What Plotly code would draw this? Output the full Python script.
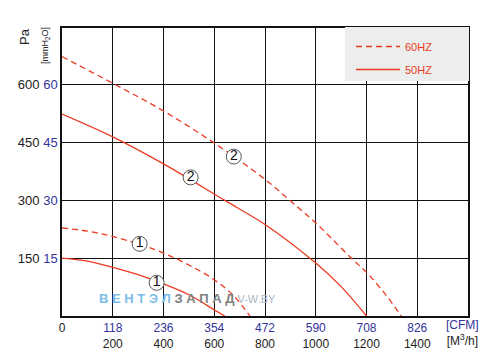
import plotly.graph_objects as go

# ---- data (flow in m3/h, pressure in mmH2O) ----
flow_60_2 = [0, 208, 400, 600, 800, 897, 1000, 1140, 1200, 1270, 1337]
pres_60_2 = [67.2, 60.0, 53.1, 44.8, 35.4, 30.0, 24.1, 15.0, 11.3, 6.0, 0.0]
flow_50_2 = [0, 200, 400, 640, 800, 1000, 1100, 1200]
pres_50_2 = [52.3, 46.4, 39.4, 30.0, 23.7, 13.7, 7.6, 0.0]
flow_60_1 = [0, 100, 200, 300, 400, 500, 600, 680, 740]
pres_60_1 = [22.8, 22.0, 20.6, 18.7, 16.3, 13.2, 9.4, 5.0, 0.0]
flow_50_1 = [0, 100, 200, 300, 400, 500, 600, 641]
pres_50_1 = [15.0, 14.2, 12.6, 10.7, 8.3, 5.5, 1.6, 0.0]

label_flow = [677, 507, 306, 373]
label_pres = [41.3, 35.9, 18.7, 8.6]
label_text = ["2", "2", "1", "1"]

x_ticks_m3h = [0, 200, 400, 600, 800, 1000, 1200, 1400]
x_ticks_cfm = ["", "118", "236", "354", "472", "590", "708", "826"]
y_ticks_mm = [15, 30, 45, 60]
y_ticks_pa = ["150", "300", "450", "600"]

RED = "#ec3a22"
BLUE = "#33339a"

W, H = 502, 363
ML, MR, MT, MB = 62, 34, 28, 47

fig = go.Figure()
fig.add_trace(go.Scatter(x=flow_60_2, y=pres_60_2, mode="lines", name="60HZ",
                         line=dict(color=RED, width=1.3, dash="6px,4px", shape="spline"),
                         legendgroup="a", showlegend=True))
fig.add_trace(go.Scatter(x=flow_60_1, y=pres_60_1, mode="lines",
                         line=dict(color=RED, width=1.3, dash="6px,4px", shape="spline"),
                         legendgroup="a", showlegend=False))
fig.add_trace(go.Scatter(x=flow_50_2, y=pres_50_2, mode="lines", name="50HZ",
                         line=dict(color=RED, width=1.3, shape="spline"),
                         legendgroup="b", showlegend=True))
fig.add_trace(go.Scatter(x=flow_50_1, y=pres_50_1, mode="lines",
                         line=dict(color=RED, width=1.3, shape="spline"),
                         legendgroup="b", showlegend=False))
fig.add_trace(go.Scatter(x=label_flow, y=label_pres, mode="markers+text",
                         text=label_text, textposition="middle center",
                         textfont=dict(family="Arial", size=14, color="#111"),
                         marker=dict(symbol="circle", size=15, color="white",
                                     line=dict(color="#555", width=1)),
                         showlegend=False, hoverinfo="skip"))

xt = []
for v, c in zip(x_ticks_m3h, x_ticks_cfm):
    if v == 0:
        xt.append("0")
    else:
        xt.append(f"<span style='color:{BLUE}'>{c}</span><br>{v}")
yt = [f"{p} <span style='color:{BLUE}'>{m}</span>" for p, m in zip(y_ticks_pa, y_ticks_mm)]

pw, ph = W - ML - MR, H - MT - MB
def px(xp, yp):
    return (xp - ML) / pw, (H - MB - yp) / ph

fig.update_layout(
    width=W, height=H,
    margin=dict(l=ML, r=MR, t=MT, b=MB, autoexpand=False),
    paper_bgcolor="white", plot_bgcolor="white",
    font=dict(family="Arial", size=12, color="#222"),
    xaxis=dict(range=[0, 1600], tickvals=x_ticks_m3h, ticktext=xt, automargin=False,
               showgrid=True, gridcolor="#111", gridwidth=1.3,
               showline=True, linecolor="#111", linewidth=1.5, mirror=True,
               zeroline=False, ticks="", tickfont=dict(size=12)),
    yaxis=dict(range=[0, 74.6], tickvals=y_ticks_mm, ticktext=yt, automargin=False,
               showgrid=True, gridcolor="#111", gridwidth=1.3,
               showline=True, linecolor="#111", linewidth=1.5, mirror=True,
               zeroline=False, ticks="", tickfont=dict(size=13)),
    legend=dict(x=px(351, 0)[0], y=px(0, 32)[1], xanchor="left", yanchor="top",
                bgcolor="rgba(0,0,0,0)", font=dict(size=11, color=RED),
                traceorder="grouped", tracegroupgap=4, itemwidth=44),
    shapes=[dict(type="rect", xref="paper", yref="paper",
                 x0=px(345, 0)[0], x1=px(469, 0)[0],
                 y0=px(0, 81)[1], y1=px(0, 27)[1], fillcolor="#eceeed", line=dict(width=0),
                 layer="above")],
)

anns = [
    dict(text="Pa", textangle=-90, pos=(24, 37), size=13, color="#222"),
    dict(text="[mmH<sub>2</sub>O]", textangle=-90, pos=(45, 46), size=9, color="#222"),
    dict(text=f"<span style='color:{BLUE}'>[CFM]</span><br>[M<sup>3</sup>/h]", textangle=0,
         pos=(462, 333), size=12, color="#222"),
    dict(text="<b><span style='color:#7cbde8'>В Е Н Т Э Л </span>"
              "<span style='color:#808080'>З А П А Д</span></b>"
              "<span style='color:#aab8c8;font-size:11px'> V-W.BY</span>", textangle=0,
         pos=(187, 298), size=13, color="#222"),
]
for a in anns:
    x, y = px(*a["pos"])
    fig.add_annotation(text=a["text"], textangle=a["textangle"], x=x, y=y,
                       xref="paper", yref="paper", showarrow=False,
                       xanchor="center", yanchor="middle",
                       font=dict(size=a["size"], color=a["color"]))

fig.write_html("out.html", config={"displayModeBar": False},
               post_script="document.body.style.margin='0';document.body.style.overflow='hidden';")
